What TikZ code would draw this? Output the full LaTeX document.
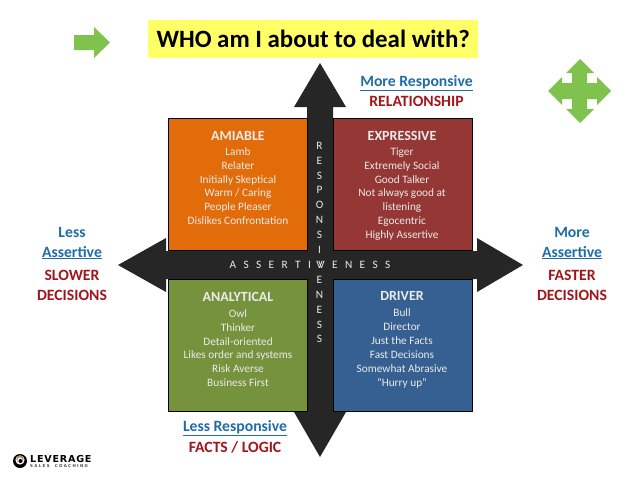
\documentclass[tikz,border=0pt]{standalone}
\usepackage{fontspec}
\setmainfont{Carlito}
\newfontfamily\logofont[LetterSpace=8]{DejaVu Sans}
\definecolor{amiablecol}{HTML}{E36C0A}
\definecolor{expressivecol}{HTML}{953735}
\definecolor{analyticalcol}{HTML}{76923C}
\definecolor{drivercol}{HTML}{366092}
\definecolor{crosscol}{HTML}{262626}
\definecolor{greencol}{HTML}{7FC24E}
\definecolor{bluecol}{HTML}{1F6CA8}
\definecolor{redcol}{HTML}{A0161B}
\definecolor{titlecol}{HTML}{FFFF66}
\definecolor{logocol}{HTML}{A58A6A}
\begin{document}
\begin{tikzpicture}[x=1pt, y=-1pt,
    quad/.style = {anchor=north west, draw=black, line width=0.8pt, inner sep=0pt, outer sep=0pt, minimum width=139pt, minimum height=132pt},
    quadtext/.style = {text=white!92!black, font=\fontsize{11.3}{13.85}\selectfont, align=center, anchor=north},
    quadhead/.style = {text=white!92!black, font=\fontsize{14}{14}\selectfont\bfseries, anchor=center},
    side/.style = {font=\fontsize{15.7}{19.3}\selectfont\bfseries, align=center, anchor=center}]
    \useasboundingbox (0,0) rectangle (638,479);
    % black cross
    \fill[crosscol] (320,63) -- (346,107) -- (333,107) -- (333,251) -- (477,251) -- (477,238) -- (523,265)
        -- (477,292) -- (477,279) -- (333,279) -- (333,412) -- (346,412) -- (320,457) -- (294,412)
        -- (307,412) -- (307,279) -- (166,279) -- (166,292) -- (118,265) -- (166,238) -- (166,251)
        -- (307,251) -- (307,107) -- (294,107) -- cycle;
    % quadrants
    \node[quad, fill=amiablecol] (amiable) at (168,118) {};
    \node[quad, fill=expressivecol] (expressive) at (333,118) {};
    \node[quad, fill=analyticalcol] (analytical) at (168,279) {};
    \node[quad, fill=drivercol] (driver) at (333,279) {};
    \node[quadhead] (amiablehead) at (238,136) {AMIABLE};
    \node[quadhead] (expressivehead) at (402,136) {EXPRESSIVE};
    \node[quadhead] (analyticalhead) at (238,297) {ANALYTICAL};
    \node[quadhead] (driverhead) at (402,296) {DRIVER};
    \node[quadtext] (amiablebody) at (238,144) {Lamb\\Relater\\Initially Skeptical\\Warm / Caring\\People Pleaser\\Dislikes Confrontation};
    \node[quadtext] (expressivebody) at (402,144) {Tiger\\Extremely Social\\Good Talker\\Not always good at\\listening\\Egocentric\\Highly Assertive};
    \node[quadtext] (analyticalbody) at (238,306) {Owl\\Thinker\\Detail-oriented\\Likes order and systems\\Risk Averse\\Business First};
    \node[quadtext] (driverbody) at (402,305.5) {Bull\\Director\\Just the Facts\\Fast Decisions\\Somewhat Abrasive\\``Hurry up''};
    % axis words
    \node[text=white!92!black, font=\fontsize{11.3}{14.9}\selectfont, align=center, anchor=north] (responsiveness) at (319.5,138.5)
        {R\\E\\S\\P\\O\\N\\S\\I\\V\\E\\N\\E\\S\\S};
    \node[text=white!92!black, font=\fontsize{11.3}{14}\selectfont] (assertiveness) at (310,265)
        {A\hspace{7.4pt}S\hspace{7.4pt}S\hspace{7.4pt}E\hspace{7.4pt}R\hspace{7.4pt}T\hspace{7.4pt}I\hspace{7.4pt}V\hspace{7.4pt}E\hspace{7.4pt}N\hspace{7.4pt}E\hspace{7.4pt}S\hspace{7.4pt}S};
    % title and green arrows
    \node[fill=titlecol, anchor=north west, minimum width=330pt, minimum height=38pt, inner sep=0pt, font=\fontsize{24.9}{26}\selectfont\bfseries] (title) at (148,20) {WHO am I about to deal with?};
    \fill[greencol] (74,35) -- (94,35) -- (94,27) -- (110,42.5) -- (94,58) -- (94,50) -- (74,50) -- cycle;
    \fill[greencol] (580,59) -- (594,73) -- (587,73) -- (587,83) -- (597,83) -- (597,77) -- (611,91) -- (597,105) -- (597,99)
        -- (587,99) -- (587,109) -- (594,109) -- (580,123) -- (566,109) -- (572,109) -- (572,99) -- (562,99) -- (562,105)
        -- (548,91) -- (562,77) -- (562,83) -- (572,83) -- (572,73) -- (566,73) -- cycle;
    % side labels
    \node[side, text=bluecol] (moreresp) at (416.5,83) {\underline{More Responsive}};
    \node[side, text=redcol] (relationship) at (416.5,101) {RELATIONSHIP};
    \node[side, text=bluecol] (lessresp) at (235,428) {\underline{Less Responsive}};
    \node[side, text=redcol] (facts) at (235,447) {FACTS / LOGIC};
    \node[side, text=bluecol] (lessassert) at (72,243.5) {Less\\\underline{Assertive}};
    \node[side, text=redcol] (slower) at (72,285.5) {SLOWER\\DECISIONS};
    \node[side, text=bluecol] (moreassert) at (572,243.5) {More\\\underline{Assertive}};
    \node[side, text=redcol] (faster) at (572,285.5) {FASTER\\DECISIONS};
    % logo
    \fill[black] (20,461) circle (7);
    \fill[white] (20,460) circle (4.6);
    \fill[logocol] (20,459) circle (3.6);
    \fill[white] (20,460) circle (2.6);
    \fill[black] (20.5,461) circle (2);
    \node[anchor=west, inner sep=0pt, font=\logofont\fontsize{9.6}{10}\selectfont\bfseries] (logoname) at (30,459.5) {LEVERAGE};
    \node[anchor=west, inner sep=0pt, text=black!70, font=\logofont\fontsize{4}{5}\selectfont\bfseries] (logosub) at (30,466) {S\,\,A\,\,L\,\,E\,\,S\ \ \ C\,\,O\,\,A\,\,C\,\,H\,\,I\,\,N\,\,G};
\end{tikzpicture}
\end{document}
